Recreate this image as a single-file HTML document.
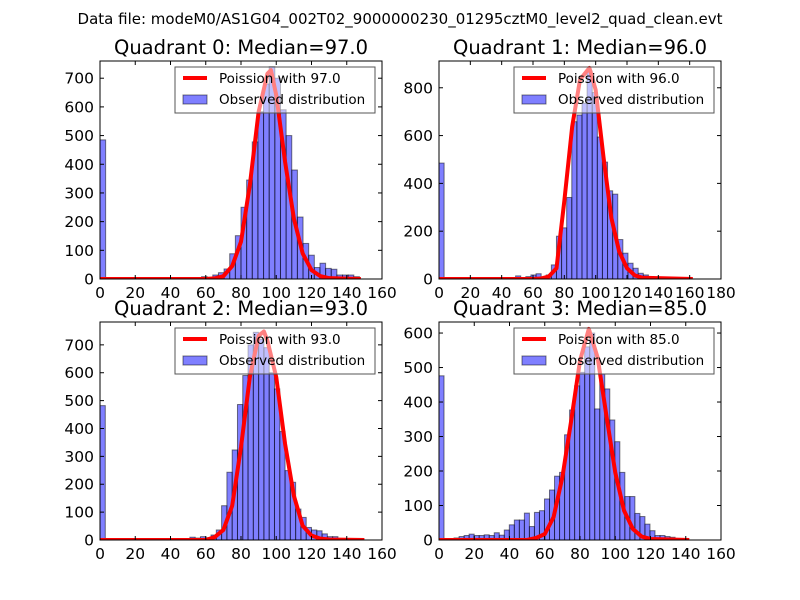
<!DOCTYPE html>
<html><head><meta charset="utf-8">
<style>
body{margin:0;background:#fff;}
svg{display:block;font-family:"DejaVu Sans","Liberation Sans",sans-serif;}
</style></head>
<body>
<svg id="fig" width="800" height="600" viewBox="0 0 800 600">
<rect width="800" height="600" fill="#fff"/>
<text x="400" y="24" text-anchor="middle" font-size="15">Data file: modeM0/AS1G04_002T02_9000000230_01295cztM0_level2_quad_clean.evt</text>
</svg>
<script>
// Quadrant 0
const q0Counts=[485,0,0,0,0,0,1,0,0,1,0,0,0,0,0,0,0,4,8,6,14,22,35,88,151,250,345,478,583,680,740,700,590,500,380,216,124,83,40,55,37,34,14,14,14,8];
const q0LineX=[0,60,65,70,75,80,85,90,95,97,100,105,110,115,120,125,130,148];
const q0LineY=[0,0,2,10,45,130,327,583,716,728,641,409,211,89,31,10,3,0];
// Quadrant 1
const q1Counts=[485,0,0,0,0,0,0,0,0,0,0,0,0,0,0,13,0,10,17,22,8,17,59,179,214,341,658,686,735,870,780,594,489,369,355,165,108,66,45,24,17,10,4];
const q1LineX=[0,60,65,70,75,80,85,90,96,100,105,110,115,120,125,130,162];
const q1LineY=[0,0,2,10,45,327,637,834,883,791,510,256,115,45,15,5,0];
// Quadrant 2
const q2Counts=[482,0,0,0,0,0,0,0,0,0,0,0,0,0,0,0,0,10,7,12,8,18,36,123,243,323,486,590,700,745,720,690,600,542,389,249,207,111,81,45,36,33,22,12,12];
const q2LineX=[0,60,65,70,75,80,85,90,93,95,100,105,110,115,120,125,130,150];
const q2LineY=[0,0,10,36,123,333,584,733,748,715,584,345,159,51,16,5,2,0];
// Quadrant 3
const q3Counts=[476,0,0,6,10,13,17,13,13,15,13,21,14,29,44,58,58,78,39,80,85,119,145,185,196,305,377,447,486,560,600,380,481,438,348,285,196,126,126,77,68,46,27,13,13,10,8];
const q3LineX=[0,50,55,60,65,70,75,80,85,90,95,100,105,110,115,120,142];
const q3LineY=[0,0,6,17,66,182,346,520,612,529,360,196,85,32,10,3,0];

const xTicks0=[0,20,40,60,80,100,120,140,160];
const xTicks1=[0,20,40,60,80,100,120,140,160,180];
const yTicks0=[0,100,200,300,400,500,600,700];
const yTicks1=[0,200,400,600,800];
const yTicks3=[0,100,200,300,400,500,600];

const NS="http://www.w3.org/2000/svg";
const svg=document.getElementById('fig');
function mk(tag,attrs,parent){const e=document.createElementNS(NS,tag);for(const k in attrs)e.setAttribute(k,attrs[k]);(parent||svg).appendChild(e);return e;}

const panels=[
 {title:"Quadrant 0: Median=97.0",med:"97.0",x0:100,y0:61,counts:q0Counts,bw:3.2,lx:q0LineX,ly:q0LineY,xmax:160,ymax:760,xt:xTicks0,yt:yTicks0},
 {title:"Quadrant 1: Median=96.0",med:"96.0",x0:439,y0:61,counts:q1Counts,bw:3.26,lx:q1LineX,ly:q1LineY,xmax:180,ymax:912,xt:xTicks1,yt:yTicks1},
 {title:"Quadrant 2: Median=93.0",med:"93.0",x0:100,y0:322,counts:q2Counts,bw:3.0,lx:q2LineX,ly:q2LineY,xmax:160,ymax:782,xt:xTicks0,yt:yTicks0},
 {title:"Quadrant 3: Median=85.0",med:"85.0",x0:439,y0:322,counts:q3Counts,bw:2.85,lx:q3LineX,ly:q3LineY,xmax:160,ymax:632,xt:xTicks0,yt:yTicks3}
];
const W=282,H=218;
panels.forEach((p,i)=>{
 const g=mk('g',{});
 
 
 const xs=v=>p.x0+v/p.xmax*W;
 const ys=v=>p.y0+H-v/p.ymax*H;
 const t=mk('text',{x:p.x0+W/2,y:p.y0-7,'text-anchor':'middle','font-size':19.5},g);
 t.textContent=p.title;
 
 
 const clip=mk('clipPath',{id:'c'+i},g);mk('rect',{x:p.x0,y:p.y0,width:W,height:H},clip);
 const plot=mk('g',{'clip-path':'url(#c'+i+')'},g);
 p.counts.forEach((c,k)=>{
  if(c<=0)return;
  const r=mk('rect',{x:xs(k*p.bw),y:ys(c),width:xs(p.bw)-xs(0),height:ys(0)-ys(c),fill:'#0000ff','fill-opacity':0.5,stroke:'#000','stroke-opacity':0.5,'stroke-width':1},plot);
  
  
 });
 const pts=p.lx.map((x,k)=>xs(x)+','+ys(p.ly[k])).join(' ');
 const pl=mk('polyline',{points:pts,fill:'none',stroke:'#ff0000','stroke-width':4,'stroke-linejoin':'round'},plot);
 
 
 mk('rect',{x:p.x0,y:p.y0,width:W,height:H,fill:'none',stroke:'#000','stroke-width':1},g);
 p.xt.forEach(v=>{
  const x=xs(v);
  mk('line',{x1:x,x2:x,y1:p.y0+H,y2:p.y0+H-4,stroke:'#000'},g);
  mk('line',{x1:x,x2:x,y1:p.y0,y2:p.y0+4,stroke:'#000'},g);
  const l=mk('text',{x:x,y:p.y0+H+19,'text-anchor':'middle','font-size':15.5},g);
  l.textContent=v;
  
  
 });
 p.yt.forEach(v=>{
  const y=ys(v);
  mk('line',{x1:p.x0,x2:p.x0+4,y1:y,y2:y,stroke:'#000'},g);
  mk('line',{x1:p.x0+W,x2:p.x0+W-4,y1:y,y2:y,stroke:'#000'},g);
  const l=mk('text',{x:p.x0-6,y:y+5.5,'text-anchor':'end','font-size':15.5},g);
  l.textContent=v;
  
  
 });
 const lg=mk('g',{},g);
 
 
 const lx=p.x0+75,ly=p.y0+6;
 mk('rect',{x:lx,y:ly,width:200,height:46,fill:'#fff','fill-opacity':0.5,stroke:'#555','stroke-width':1},lg);
 mk('line',{x1:lx+8,x2:lx+32,y1:ly+11,y2:ly+11,stroke:'#ff0000','stroke-width':4},lg);
 const t1=mk('text',{x:lx+44,y:ly+16,'font-size':13.5},lg);t1.textContent='Poission with '+p.med;
 
 
 mk('rect',{x:lx+8,y:ly+28,width:24,height:9,fill:'#0000ff','fill-opacity':0.5,stroke:'#000','stroke-opacity':0.5},lg);
 const t2=mk('text',{x:lx+44,y:ly+37,'font-size':13.5},lg);t2.textContent='Observed distribution';
 
 
});
</script>
</body></html>
